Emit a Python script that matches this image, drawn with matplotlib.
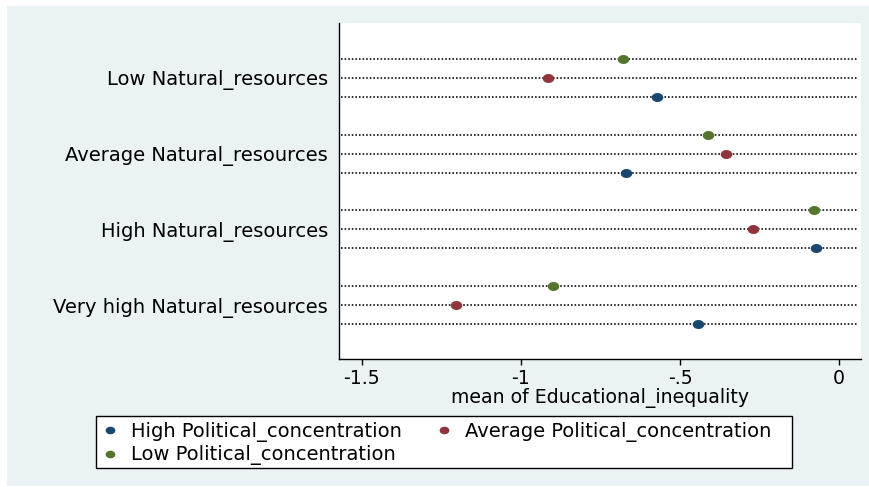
import numpy as np
import matplotlib
matplotlib.use("Agg")
import matplotlib.pyplot as plt
from matplotlib.lines import Line2D
from matplotlib.patches import Rectangle

# ---- data ----
groups = ["Low Natural_resources", "Average Natural_resources",
          "High Natural_resources", "Very high Natural_resources"]
low_pc = [-0.680, -0.412, -0.078, -0.900]     # Low Political_concentration
avg_pc = [-0.914, -0.356, -0.269, -1.205]     # Average Political_concentration
high_pc = [-0.571, -0.669, -0.073, -0.443]    # High Political_concentration
xticks = [-1.5, -1.0, -0.5, 0.0]
xticklabels = ["-1.5", "-1", "-.5", "0"]
legend_labels = ["High Political_concentration", "Low Political_concentration",
                 "Average Political_concentration"]

colors = {"High": "#1a476f", "Average": "#90353b", "Low": "#55752f"}
bg = "#eaf2f3"

plt.rcParams["font.family"] = ["DejaVu Sans"]
plt.rcParams["axes.unicode_minus"] = False
FS = 13.6
FSY = 14.0

fig = plt.figure(figsize=(8.7, 4.87), dpi=100, facecolor="white")
fig.patches.append(Rectangle((7 / 870, 1 / 487), 863 / 870, 480 / 487,
                             transform=fig.transFigure, facecolor=bg,
                             edgecolor="none", zorder=-10))
# legend box
fig.patches.append(Rectangle((96 / 870, 1 - 468 / 487), 696 / 870, 52 / 487,
                             transform=fig.transFigure, facecolor="white",
                             edgecolor="black", lw=1.0, zorder=-5))

ax = fig.add_axes([339 / 870, 1 - 359 / 487, 522 / 870, 336 / 487])
ax.set_zorder(1)
ax.set_facecolor("white")

t = np.linspace(0, 2 * np.pi, 60)
ell = list(zip(np.cos(t), 0.78 * np.sin(t)))

series_vals = [low_pc, avg_pc, high_pc]
series_cols = [colors["Low"], colors["Average"], colors["High"]]
for s, (vals, col) in enumerate(zip(series_vals, series_cols)):
    ys = [g * 4 + s for g in range(len(groups))]
    for y in ys:
        ax.axhline(y, xmin=0.004, xmax=0.992, color="black", lw=1.15,
                   ls=(0, (1, 1.25)), zorder=1)
    ax.plot(vals, ys, ls="none", marker=ell, ms=8.3, mew=0, color=col, zorder=3)

ax.set_xlim(-1.572, 0.069)
ax.set_ylim(15.85, -1.9)
ax.set_yticks([g * 4 + 1 for g in range(len(groups))])
ax.set_yticklabels(groups, fontsize=FSY)
ax.tick_params(axis="y", length=0, pad=7.9)
ax.set_xticks(xticks)
ax.set_xticklabels(xticklabels, fontsize=FS)
ax.tick_params(axis="x", length=4, width=1, pad=3, color="black")
ax.set_xlabel("mean of Educational_inequality", fontsize=FS, labelpad=0)

for sp in ["top", "right"]:
    ax.spines[sp].set_visible(False)
for sp in ["left", "bottom"]:
    ax.spines[sp].set_color("black")
    ax.spines[sp].set_linewidth(1.0)

handles = [
    Line2D([], [], ls="none", marker=ell, ms=7, mew=0, color=colors["High"]),
    Line2D([], [], ls="none", marker=ell, ms=7, mew=0, color=colors["Low"]),
    Line2D([], [], ls="none", marker=ell, ms=7, mew=0, color=colors["Average"]),
]
leg = fig.legend(handles, legend_labels, ncol=2, loc="upper left",
                 bbox_to_anchor=(104 / 870, 1 - 422 / 487),
                 fontsize=FSY, frameon=False, handlelength=0.6,
                 handletextpad=0.78, borderpad=0, labelspacing=0.17,
                 columnspacing=1.86, borderaxespad=0)

fig.savefig("out.png", dpi=100, facecolor="white")
